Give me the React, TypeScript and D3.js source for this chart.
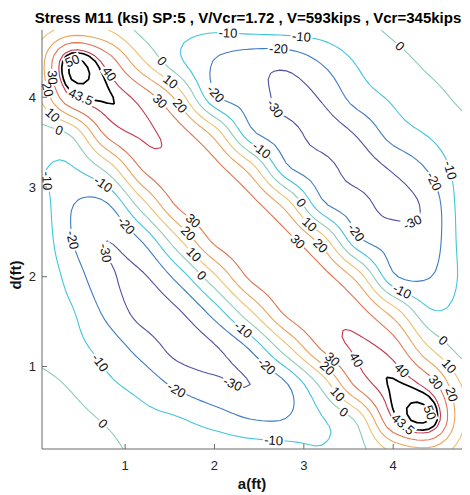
import React, { useMemo } from "react";
import * as d3 from "d3";

// grid nodes (ft)
const aNodes = [0, 0.4, 0.8, 1.2, 1.6, 2.0, 2.4, 2.8, 3.2, 3.6, 4.0, 4.4, 4.8];
const dNodes = [0, 0.4, 0.8, 1.2, 1.6, 2.0, 2.4, 2.8, 3.2, 3.6, 4.0, 4.4, 4.8];

// Stress M11 (ksi): one row per d node (bottom to top), one column per a node
const stressRows = [
  [7, 5, 2.5, -2, -4, -1.5, -2, -3.7, -9, -4, 8, 12, 5],
  [5, 3, -1, -6.5, -9, -14, -19.5, -19.5, -11, 2, 40, 50.3, 10],
  [2.5, -1, -8, -14, -22.4, -28, -30, -21, 3, 33, 44, 36, 8],
  [-2, -6.5, -14, -24, -33, -31, -19, 6, 31, 41, 36, 11, -4],
  [-4, -9, -22.4, -33, -31, -16, 8, 32, 38.5, 34.5, 16, -8, -7],
  [-1.5, -14, -28, -31, -16, 8, 32, 37.5, 34, 16, -18, -20.5, -8],
  [-2, -19.5, -30, -19, 8, 32, 37, 34, 16, -17, -24, -26, -6],
  [-3.7, -19.5, -21, 6, 32, 37.5, 34, 16, -17, -26, -33, -27, -5],
  [-9, -11, 3, 31, 38.5, 34, 16, -17, -26, -33, -29, -19, -5],
  [-4, 2, 33, 41, 34.5, 16, -17, -26, -33, -29, -15.5, -9, -2],
  [8, 40, 44, 36, 16, -18, -24, -33, -29, -15.5, -8.5, -3, 1.5],
  [12, 50.3, 36, 11, -8, -20.5, -26, -27, -19, -9, -3, 1.5, 4],
  [5, 10, 8, -4, -7, -8, -6, -5, -5, -2, 1.5, 4, 6],
];

const contourLevels = [-30, -20, -10, 0, 10, 20, 30, 40, 43.5, 50];
const levelColors = ["#4f4ea3", "#3e7cc4", "#41c5dc", "#8ecbb8", "#ecc26f", "#eba35a", "#e0734e", "#c8344a", "#000000", "#000000"];

const xTicks = [1, 2, 3, 4];
const yTicks = [1, 2, 3, 4];

const titleText = "Stress M11 (ksi) SP:5 , V/Vcr=1.72 , V=593kips , Vcr=345kips";
const xLabel = "a(ft)";
const yLabel = "d(ft)";

// contour label anchors: [level, a, d]
const labelAnchors: [number, number, number][] = [
  [50, 0.41, 4.4], [43.5, 0.53, 4.07], [40, 0.81, 4.25], [30, 0.18, 4.22], [20, 0.14, 4.09],
  [10, 0.22, 3.84], [0, 0.24, 3.57], [-10, 0.14, 3.07], [-20, 0.24, 2.38], [-30, 0.59, 2.19],
  [-10, 0.66, 1.0], [-20, 1.56, 0.71], [-30, 2.18, 0.77], [0, 0.74, 0.35], [-10, 2.66, 0.15],
  [-10, 0.72, 2.98], [-20, 0.94, 2.51], [-10, 2.32, 1.41], [-20, 2.6, 1.02],
  [30, 1.73, 2.59], [20, 1.67, 2.45], [10, 1.75, 2.23], [0, 1.84, 2.0],
  [0, 2.98, 2.83], [10, 3.07, 2.59], [20, 3.18, 2.34], [30, 2.94, 2.4],
  [-10, 2.15, 4.69], [-10, 2.96, 4.54], [-20, 2.71, 4.38], [-20, 1.99, 4.02], [-30, 2.59, 3.82],
  [-10, 2.51, 3.39], [-20, 3.61, 2.51], [-30, 4.22, 2.59], [-20, 4.45, 3.06], [-10, 4.61, 3.18],
  [0, 4.03, 4.52], [-10, 4.1, 1.84], [0, 4.55, 1.28], [10, 4.61, 0.99], [20, 4.66, 0.69],
  [30, 4.47, 0.82], [40, 4.1, 0.96], [40, 3.6, 1.08], [43.5, 4.17, 0.43], [50, 4.42, 0.49],
  [30, 3.32, 1.08], [20, 3.27, 0.99], [10, 3.41, 0.72], [0, 3.46, 0.51],
  [0, 1.34, 4.35], [10, 1.43, 4.07], [30, 1.34, 3.91], [20, 1.53, 3.84],
];

const W = 470;
const H = 495;
const PLOT = { left: 42, right: 462, top: 30, bottom: 449 };
const FONT = "'Liberation Sans', Arial, Helvetica, sans-serif";

function catmull(p0: number, p1: number, p2: number, p3: number, t: number) {
  return 0.5 * (2 * p1 + (p2 - p0) * t + (2 * p0 - 5 * p1 + 4 * p2 - p3) * t * t + (3 * p1 - p0 - 3 * p2 + p3) * t * t * t);
}

function sampleGrid(gx: number, gy: number) {
  const n = aNodes.length;
  const m = dNodes.length;
  const cl = (v: number, hi: number) => Math.max(0, Math.min(hi, v));
  const ix = Math.min(Math.floor(gx), n - 2);
  const iy = Math.min(Math.floor(gy), m - 2);
  const tx = gx - ix;
  const ty = gy - iy;
  const col: number[] = [];
  for (let k = -1; k <= 2; k++) {
    const row = stressRows[cl(iy + k, m - 1)];
    col.push(catmull(row[cl(ix - 1, n - 1)], row[cl(ix, n - 1)], row[cl(ix + 1, n - 1)], row[cl(ix + 2, n - 1)], tx));
  }
  return catmull(col[0], col[1], col[2], col[3], ty);
}

const fmt = (v: number) => (Number.isInteger(v) ? String(v) : v.toFixed(1));
function textWidth(s: string, size: number) {
  let w = 0;
  for (const ch of s) w += ch === "-" ? 0.333 : ch === "." ? 0.278 : 0.556;
  return w * size;
}

const LABEL_SIZE = 13;

export default function App() {
  const xScale = d3.scaleLinear().domain([0.07, 4.77]).range([PLOT.left, PLOT.right]);
  const yScale = d3.scaleLinear().domain([0.08, 4.75]).range([PLOT.bottom, PLOT.top]);

  const { lines, labels } = useMemo(() => {
    const F = 6;
    const nx = (aNodes.length - 1) * F + 1;
    const ny = (dNodes.length - 1) * F + 1;
    const ha = (aNodes[1] - aNodes[0]) / F;
    const hd = (dNodes[1] - dNodes[0]) / F;
    const vals: number[] = new Array(nx * ny);
    for (let r = 0; r < ny; r++) for (let c = 0; c < nx; c++) vals[r * nx + c] = sampleGrid(c / F, r / F);
    const cs = d3.contours().size([nx, ny]).thresholds(contourLevels)(vals);
    const lines = cs.map((c) => {
      const rings: [number, number][][] = [];
      c.coordinates.forEach((poly) =>
        poly.forEach((ring) =>
          rings.push(
            ring.map(([X, Y]) => [xScale(aNodes[0] + (X - 0.5) * ha), yScale(dNodes[0] + (Y - 0.5) * hd)] as [number, number])
          )
        )
      );
      return { level: c.value, rings };
    });
    const outside = (x: number, y: number) =>
      x < PLOT.left + 1 || x > PLOT.right - 1 || y < PLOT.top + 1 || y > PLOT.bottom - 1;
    const labels = labelAnchors.map(([lv, a, d]) => {
      const tx = xScale(a);
      const ty = yScale(d);
      const L = lines.find((l) => l.level === lv);
      let best = { dist: Infinity, x: tx, y: ty, ang: 0 };
      if (L) {
        L.rings.forEach((ring) => {
          const m = ring.length;
          for (let i = 0; i < m - 1; i++) {
            const [x1, y1] = ring[i];
            const [x2, y2] = ring[i + 1];
            if (outside(x1, y1) || outside(x2, y2)) continue;
            const dx = x2 - x1;
            const dy = y2 - y1;
            const len2 = dx * dx + dy * dy || 1e-9;
            let u = ((tx - x1) * dx + (ty - y1) * dy) / len2;
            u = Math.max(0, Math.min(1, u));
            const px = x1 + u * dx;
            const py = y1 + u * dy;
            const dist = Math.hypot(px - tx, py - ty);
            if (dist < best.dist) {
              const p0 = ring[(i - 2 + m) % m];
              const p1 = ring[(i + 3) % m];
              best = { dist, x: px, y: py, ang: Math.atan2(p1[1] - p0[1], p1[0] - p0[0]) };
            }
          }
        });
      }
      let deg = (best.ang * 180) / Math.PI;
      if (deg > 90) deg -= 180;
      if (deg < -90) deg += 180;
      const text = fmt(lv);
      return { x: best.x, y: best.y, deg, text, w: textWidth(text, LABEL_SIZE) + 3 };
    });
    return { lines, labels };
  }, []);

  return (
    <svg width={W} height={H} style={{ position: "absolute", left: 0, top: 0, background: "#fff" }} fontFamily={FONT}>
      <defs>
        <clipPath id="plotClip">
          <rect x={PLOT.left} y={PLOT.top} width={PLOT.right - PLOT.left} height={PLOT.bottom - PLOT.top} />
        </clipPath>
        <mask id="labelMask" maskUnits="userSpaceOnUse" x={0} y={0} width={W} height={H}>
          <rect x={0} y={0} width={W} height={H} fill="#fff" />
          {labels.map((l, i) => (
            <rect key={i} x={-l.w / 2} y={-6} width={l.w} height={12} fill="#000"
              transform={`translate(${l.x},${l.y}) rotate(${l.deg})`} />
          ))}
        </mask>
      </defs>
      <rect x={0} y={0} width={W} height={H} fill="#fff" />
      <g clipPath="url(#plotClip)">
        <g mask="url(#labelMask)">
          {lines.map((l, i) => {
            const idx = contourLevels.indexOf(l.level);
            const black = l.level > 40;
            return (
              <path key={i}
                d={l.rings.map((r) => "M" + r.map((p) => p[0].toFixed(2) + "," + p[1].toFixed(2)).join("L") + "Z").join("")}
                fill="none" stroke={levelColors[idx]} strokeWidth={black ? 1.7 : 1.1} strokeLinejoin="round" />
            );
          })}
        </g>
      </g>
      {labels.map((l, i) => (
        <text key={i} x={0} y={0} fontSize={LABEL_SIZE} textAnchor="middle" dominantBaseline="central" fill="#111"
          transform={`translate(${l.x},${l.y}) rotate(${l.deg})`}>{l.text}</text>
      ))}
      {/* axes */}
      <line x1={PLOT.left} x2={PLOT.left} y1={PLOT.top} y2={PLOT.bottom} stroke="#6b6b6b" strokeWidth={1} />
      <line x1={PLOT.left} x2={PLOT.right} y1={PLOT.bottom} y2={PLOT.bottom} stroke="#6b6b6b" strokeWidth={1} />
      {xTicks.map((t) => (
        <g key={"x" + t}>
          <line x1={xScale(t)} x2={xScale(t)} y1={PLOT.bottom} y2={PLOT.bottom - 5} stroke="#6b6b6b" />
          <text x={xScale(t)} y={470} fontSize={13} textAnchor="middle" fill="#262626">{t}</text>
        </g>
      ))}
      {yTicks.map((t) => (
        <g key={"y" + t}>
          <line x1={PLOT.left} x2={PLOT.left + 5} y1={yScale(t)} y2={yScale(t)} stroke="#6b6b6b" />
          <text x={36} y={yScale(t)} fontSize={13} textAnchor="end" dominantBaseline="central" fill="#262626">{t}</text>
        </g>
      ))}
      <text x={252} y={489} fontSize={15} fontWeight="bold" textAnchor="middle" fill="#111">{xLabel}</text>
      <text transform="translate(21,275) rotate(-90)" fontSize={15} fontWeight="bold" textAnchor="middle" fill="#111">{yLabel}</text>
      <text x={248} y={23} fontSize={15} fontWeight="bold" textAnchor="middle" fill="#000">{titleText}</text>
    </svg>
  );
}
